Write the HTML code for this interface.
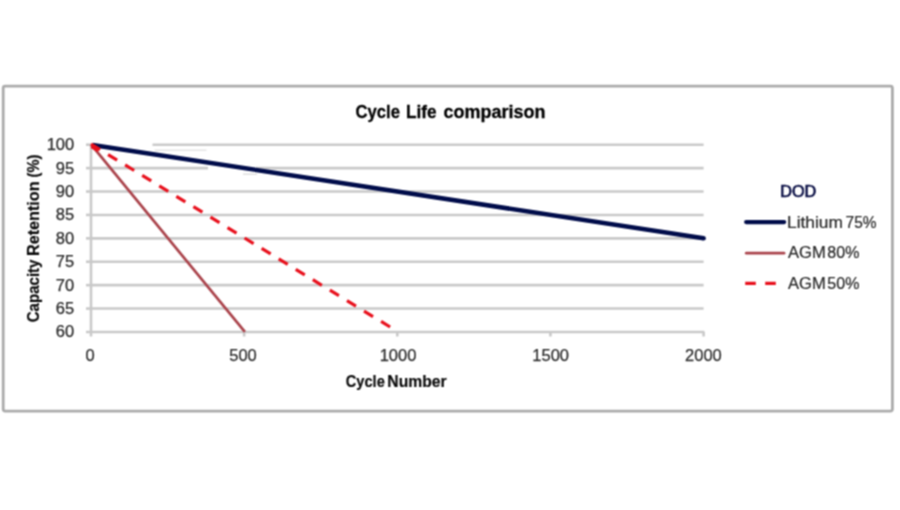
<!DOCTYPE html>
<html>
<head>
<meta charset="utf-8">
<style>
html,body{margin:0;padding:0;background:#fff;}
body{width:900px;height:510px;overflow:hidden;}
svg{display:block;}
text{font-family:"Liberation Sans", sans-serif;}
</style>
</head>
<body>
<svg width="900" height="510" viewBox="0 0 900 510">
<defs><filter id="bl" x="0" y="0" width="900" height="510" filterUnits="userSpaceOnUse" color-interpolation-filters="sRGB"><feConvolveMatrix order="3" kernelMatrix="1 2 1 2 4 2 1 2 1" divisor="16" edgeMode="duplicate"/></filter></defs>
<g filter="url(#bl)">
<rect x="0" y="0" width="900" height="510" fill="#fff"/>
<rect x="3.2" y="86.1" width="889.2" height="324.95" rx="2" fill="#fff" stroke="#ababab" stroke-width="2.8"/>
<text y="118.2" font-size="18.3" font-weight="bold" fill="#000" stroke="#000" stroke-width="0.3"><tspan x="355.6" textLength="44.4" lengthAdjust="spacingAndGlyphs">Cycle</tspan> <tspan x="406.0" textLength="30.5" lengthAdjust="spacingAndGlyphs">Life</tspan> <tspan x="443.6" textLength="101.9" lengthAdjust="spacingAndGlyphs">comparison</tspan></text>
<g stroke="#c9c9c9" stroke-width="2.6">
<line x1="152.50" y1="144.70" x2="703.60" y2="144.70"/>
<line x1="91.00" y1="168.11" x2="208" y2="168.11"/>
<line x1="256" y1="168.11" x2="703.60" y2="168.11"/>
<line x1="91.00" y1="191.52" x2="703.60" y2="191.52"/>
<line x1="91.00" y1="214.93" x2="703.60" y2="214.93"/>
<line x1="91.00" y1="238.34" x2="703.60" y2="238.34"/>
<line x1="91.00" y1="261.75" x2="703.60" y2="261.75"/>
<line x1="91.00" y1="285.16" x2="703.60" y2="285.16"/>
<line x1="91.00" y1="308.57" x2="703.60" y2="308.57"/>
</g>
<line x1="154.5" y1="150.3" x2="206.5" y2="150.3" stroke="#e6e6e6" stroke-width="1.6"/>
<line x1="243" y1="174.2" x2="257" y2="174.2" stroke="#e2e2e2" stroke-width="1.6"/>
<g stroke="#c9c9c9" stroke-width="2.6">
<line x1="91.00" y1="144.20" x2="91.00" y2="331.98"/>
<line x1="86.00" y1="331.98" x2="704.40" y2="331.98"/>
<line x1="86.00" y1="144.70" x2="91.00" y2="144.70"/>
<line x1="86.00" y1="168.11" x2="91.00" y2="168.11"/>
<line x1="86.00" y1="191.52" x2="91.00" y2="191.52"/>
<line x1="86.00" y1="214.93" x2="91.00" y2="214.93"/>
<line x1="86.00" y1="238.34" x2="91.00" y2="238.34"/>
<line x1="86.00" y1="261.75" x2="91.00" y2="261.75"/>
<line x1="86.00" y1="285.16" x2="91.00" y2="285.16"/>
<line x1="86.00" y1="308.57" x2="91.00" y2="308.57"/>
<line x1="91.00" y1="331.98" x2="91.00" y2="336.48"/>
<line x1="244.15" y1="331.98" x2="244.15" y2="336.48"/>
<line x1="397.30" y1="331.98" x2="397.30" y2="336.48"/>
<line x1="550.45" y1="331.98" x2="550.45" y2="336.48"/>
<line x1="703.60" y1="331.98" x2="703.60" y2="336.48"/>
</g>
<g font-size="16.5" fill="#2b2b2b" stroke="#2b2b2b" stroke-width="0.25" text-anchor="end">
<text x="74.2" y="150.20">100</text>
<text x="74.2" y="173.61">95</text>
<text x="74.2" y="197.02">90</text>
<text x="74.2" y="220.43">85</text>
<text x="74.2" y="243.84">80</text>
<text x="74.2" y="267.25">75</text>
<text x="74.2" y="290.66">70</text>
<text x="74.2" y="314.07">65</text>
<text x="74.2" y="337.48">60</text>
</g>
<g font-size="16.5" fill="#2b2b2b" stroke="#2b2b2b" stroke-width="0.25" text-anchor="middle">
<text x="90.10" y="361">0</text>
<text x="243.00" y="361">500</text>
<text x="398.00" y="361">1000</text>
<text x="550.70" y="361">1500</text>
<text x="703.40" y="361">2000</text>
</g>
<text y="387.2" font-size="15.8" font-weight="bold" fill="#0a0a0a" stroke="#0a0a0a" stroke-width="0.2"><tspan x="345.8" textLength="38.96" lengthAdjust="spacingAndGlyphs">Cycle</tspan> <tspan x="387.35" textLength="59.2" lengthAdjust="spacingAndGlyphs">Number</tspan></text>
<text transform="translate(39.2,322.3) rotate(-90)" y="0" font-size="16" font-weight="bold" fill="#0a0a0a" stroke="#0a0a0a" stroke-width="0.2"><tspan x="0.0" textLength="62.8" lengthAdjust="spacingAndGlyphs">Capacity</tspan> <tspan x="66.3" textLength="74.6" lengthAdjust="spacingAndGlyphs">Retention</tspan> <tspan x="144.9" textLength="22.8" lengthAdjust="spacingAndGlyphs">(%)</tspan></text>
<line x1="92.50" y1="144.93" x2="703.60" y2="238.34" stroke="#000c4a" stroke-width="4.5"/>
<circle cx="703.60" cy="238.34" r="2.25" fill="#000c4a"/>
<line x1="91.4" y1="144.9" x2="244.9" y2="331.98" stroke="#aa434b" stroke-width="2.7"/>
<line x1="91.00" y1="144.1" x2="397.30" y2="331.4" stroke="#e8101c" stroke-width="3.2" stroke-dasharray="10.6 9.4"/>
<line x1="91.8" y1="146" x2="98.6" y2="150.1" stroke="#e8101c" stroke-width="4.6"/>
<text x="780.3" y="196.8" font-size="17" fill="#0a0f45" stroke="#0a0f45" stroke-width="0.7" textLength="36" lengthAdjust="spacingAndGlyphs">DOD</text>
<line x1="746.2" y1="222.1" x2="784.1" y2="222.1" stroke="#000c4a" stroke-width="4.3" stroke-linecap="round"/>
<g font-size="16.3" fill="#262626" stroke="#262626" stroke-width="0.2">
<text y="227.5"><tspan x="787.1" textLength="55.8" lengthAdjust="spacingAndGlyphs">Lithium</tspan> <tspan x="845.6" textLength="31.0" lengthAdjust="spacingAndGlyphs">75%</tspan></text>
<text y="258.4"><tspan x="788" textLength="37.7" lengthAdjust="spacingAndGlyphs">AGM</tspan> <tspan x="827.3" textLength="32.1" lengthAdjust="spacingAndGlyphs">80%</tspan></text>
<text y="289.1"><tspan x="788" textLength="37.7" lengthAdjust="spacingAndGlyphs">AGM</tspan> <tspan x="827.3" textLength="32.1" lengthAdjust="spacingAndGlyphs">50%</tspan></text>
</g>
<line x1="746.3" y1="253.2" x2="784" y2="253.2" stroke="#aa434b" stroke-width="2.8" stroke-linecap="round"/>
<line x1="745.2" y1="283.4" x2="776" y2="283.4" stroke="#e8101c" stroke-width="3.2" stroke-dasharray="10.6 9.4"/>
</g>
</svg>
</body>
</html>
